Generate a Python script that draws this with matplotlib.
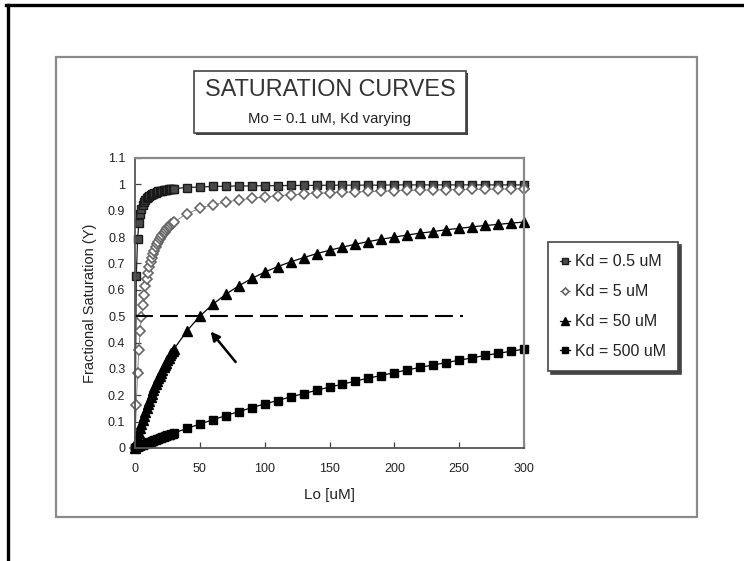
import matplotlib
matplotlib.use("Agg")
import matplotlib.pyplot as plt
from matplotlib.lines import Line2D
from matplotlib.patches import Rectangle

plt.rcParams['font.family'] = ['Liberation Sans', 'DejaVu Sans']

# === Data ===
lo = [0, 1, 2, 3, 4, 5, 6, 7, 8, 9, 10, 11, 12, 13, 14, 15, 16, 17, 18, 19, 20,
      21, 22, 23, 24, 25, 26, 27, 28, 29, 30,
      40, 50, 60, 70, 80, 90, 100, 110, 120, 130, 140, 150, 160, 170, 180, 190,
      200, 210, 220, 230, 240, 250, 260, 270, 280, 290, 300]

y_kd05 = [0, 0.651, 0.794, 0.853, 0.887, 0.908, 0.922, 0.933, 0.941, 0.947, 0.952,
          0.956, 0.960, 0.963, 0.965, 0.968, 0.969, 0.971, 0.973, 0.974, 0.975,
          0.976, 0.977, 0.978, 0.979, 0.980, 0.981, 0.981, 0.982, 0.983, 0.984,
          0.988, 0.990, 0.992, 0.993, 0.994, 0.994, 0.995, 0.995, 0.996, 0.996,
          0.996, 0.997, 0.997, 0.997, 0.997, 0.997, 0.998, 0.998, 0.998, 0.998,
          0.998, 0.998, 0.998, 0.998, 0.998, 0.998, 0.998]

y_kd5 = [0, 0.165, 0.283, 0.372, 0.442, 0.497, 0.543, 0.581, 0.614, 0.641, 0.665,
         0.686, 0.705, 0.721, 0.736, 0.749, 0.761, 0.772, 0.782, 0.791, 0.799,
         0.807, 0.814, 0.821, 0.827, 0.833, 0.838, 0.843, 0.848, 0.852, 0.857,
         0.889, 0.909, 0.923, 0.933, 0.941, 0.947, 0.952, 0.957, 0.960, 0.963,
         0.966, 0.968, 0.970, 0.971, 0.973, 0.974, 0.976, 0.977, 0.978, 0.979,
         0.980, 0.980, 0.981, 0.982, 0.982, 0.983, 0.984]

y_kd50 = [0, 0.020, 0.038, 0.057, 0.074, 0.091, 0.107, 0.123, 0.138, 0.153, 0.167,
          0.180, 0.194, 0.206, 0.219, 0.231, 0.242, 0.254, 0.265, 0.275, 0.286,
          0.296, 0.306, 0.315, 0.324, 0.333, 0.342, 0.351, 0.359, 0.367, 0.375,
          0.444, 0.500, 0.545, 0.583, 0.615, 0.643, 0.667, 0.688, 0.706, 0.722,
          0.737, 0.750, 0.762, 0.773, 0.783, 0.792, 0.800, 0.808, 0.815, 0.821,
          0.828, 0.833, 0.839, 0.844, 0.848, 0.853, 0.857]

y_kd500 = [0, 0.002, 0.004, 0.006, 0.008, 0.010, 0.012, 0.014, 0.016, 0.018, 0.020,
           0.022, 0.023, 0.025, 0.027, 0.029, 0.031, 0.033, 0.035, 0.037, 0.038,
           0.040, 0.042, 0.044, 0.046, 0.048, 0.049, 0.051, 0.053, 0.055, 0.057,
           0.074, 0.091, 0.107, 0.123, 0.138, 0.153, 0.167, 0.180, 0.194, 0.206,
           0.219, 0.231, 0.242, 0.254, 0.265, 0.275, 0.286, 0.296, 0.306, 0.315,
           0.324, 0.333, 0.342, 0.351, 0.359, 0.367, 0.375]

labels = ["Kd = 0.5 uM", "Kd = 5 uM", "Kd = 50 uM", "Kd = 500 uM"]
x_ticks = [0, 50, 100, 150, 200, 250, 300]
y_ticks = [0, 0.1, 0.2, 0.3, 0.4, 0.5, 0.6, 0.7, 0.8, 0.9, 1.0, 1.1]
y_tick_labels = ["0", "0.1", "0.2", "0.3", "0.4", "0.5", "0.6", "0.7", "0.8", "0.9", "1", "1.1"]

half_x = [0, 253]
half_y = [0.5, 0.5]
arrow_tip = (57, 0.45)
arrow_tail = (79, 0.318)

W, H = 744, 561
fig = plt.figure(figsize=(W / 100, H / 100), dpi=100)

# === outer frame lines and chart area box ===
fig.add_artist(Line2D([6 / W, 1], [1 - 5 / H, 1 - 5 / H], color="black", lw=2.4))
fig.add_artist(Line2D([8 / W, 8 / W], [0, 1 - 5 / H], color="black", lw=2.4))
fig.add_artist(Rectangle((56 / W, 1 - 517 / H), 641 / W, 460 / H, transform=fig.transFigure,
                         facecolor="none", edgecolor="#8a8a8a", lw=1.6))

ax = fig.add_axes([135 / W, 1 - 448 / H, (524 - 135) / W, (448 - 158) / H])

ax.plot(lo, y_kd05, marker="s", ms=6.2, color="#222222", mfc="#4a4a4a", mec="#1a1a1a",
        lw=0.9, clip_on=False, label=labels[0])
ax.plot(lo, y_kd5, marker="D", ms=4.8, color="#777777", mfc="white", mec="#666666",
        mew=1.2, lw=0.6, clip_on=False, label=labels[1])
ax.plot(lo, y_kd50, marker="^", ms=6.8, color="black", mfc="black", mec="black",
        lw=0.9, clip_on=False, label=labels[2])
ax.plot(lo, y_kd500, marker="s", ms=6.2, color="black", mfc="black", mec="black",
        lw=0.9, clip_on=False, label=labels[3])

ax.plot(half_x, half_y, color="black", lw=1.5, dashes=(8.6, 3.4))
ax.annotate("", xy=arrow_tip, xytext=arrow_tail,
            arrowprops=dict(arrowstyle="-|>", color="black", lw=1.8, mutation_scale=13))

ax.set_xlim(0, 300)
ax.set_ylim(0, 1.1)
ax.set_xticks(x_ticks)
ax.set_yticks(y_ticks)
ax.set_yticklabels(y_tick_labels)
ax.tick_params(direction="in", length=4, width=0.9, color="#444444", labelsize=9,
               labelcolor="#222222")
ax.tick_params(axis="y", pad=7)
ax.tick_params(axis="x", pad=11)
for s in ["left", "bottom"]:
    ax.spines[s].set_color("#555555")
    ax.spines[s].set_linewidth(1.3)
for s in ["top", "right"]:
    ax.spines[s].set_color("#8a8a8a")
    ax.spines[s].set_linewidth(1.6)

ax.set_xlabel("Lo [uM]", fontsize=11, color="#222222", labelpad=9)
ax.set_ylabel("Fractional Saturation (Y)", fontsize=10.5, color="#222222", labelpad=8)

leg = ax.legend(loc="upper left", bbox_to_anchor=(548 / W, 1 - 242 / H),
                bbox_transform=fig.transFigure, borderaxespad=0, fontsize=11.5,
                labelspacing=0.93, borderpad=0.78, handlelength=0.6, handletextpad=0.3,
                markerscale=0.75, fancybox=False, framealpha=1,
                shadow={"color": "#444444", "alpha": 1})
leg.get_frame().set_edgecolor("#444444")
leg.get_frame().set_linewidth(1.2)
for t in leg.get_texts():
    t.set_color("#222222")

# === title box ===
fig.add_artist(Rectangle((196 / W, 1 - 135 / H), 272 / W, 62 / H, transform=fig.transFigure,
                         facecolor="#444444", edgecolor="none"))
fig.add_artist(Rectangle((194 / W, 1 - 133 / H), 272 / W, 62 / H, transform=fig.transFigure,
                         facecolor="white", edgecolor="#444444", lw=1.2))
fig.text(330 / W, 1 - 89 / H, "SATURATION CURVES", ha="center", va="center",
         fontsize=16.8, color="#333333")
fig.text(330 / W, 1 - 119 / H, "Mo = 0.1 uM, Kd varying", ha="center", va="center",
         fontsize=10.8, color="#222222")

fig.savefig("out.png", dpi=100)
